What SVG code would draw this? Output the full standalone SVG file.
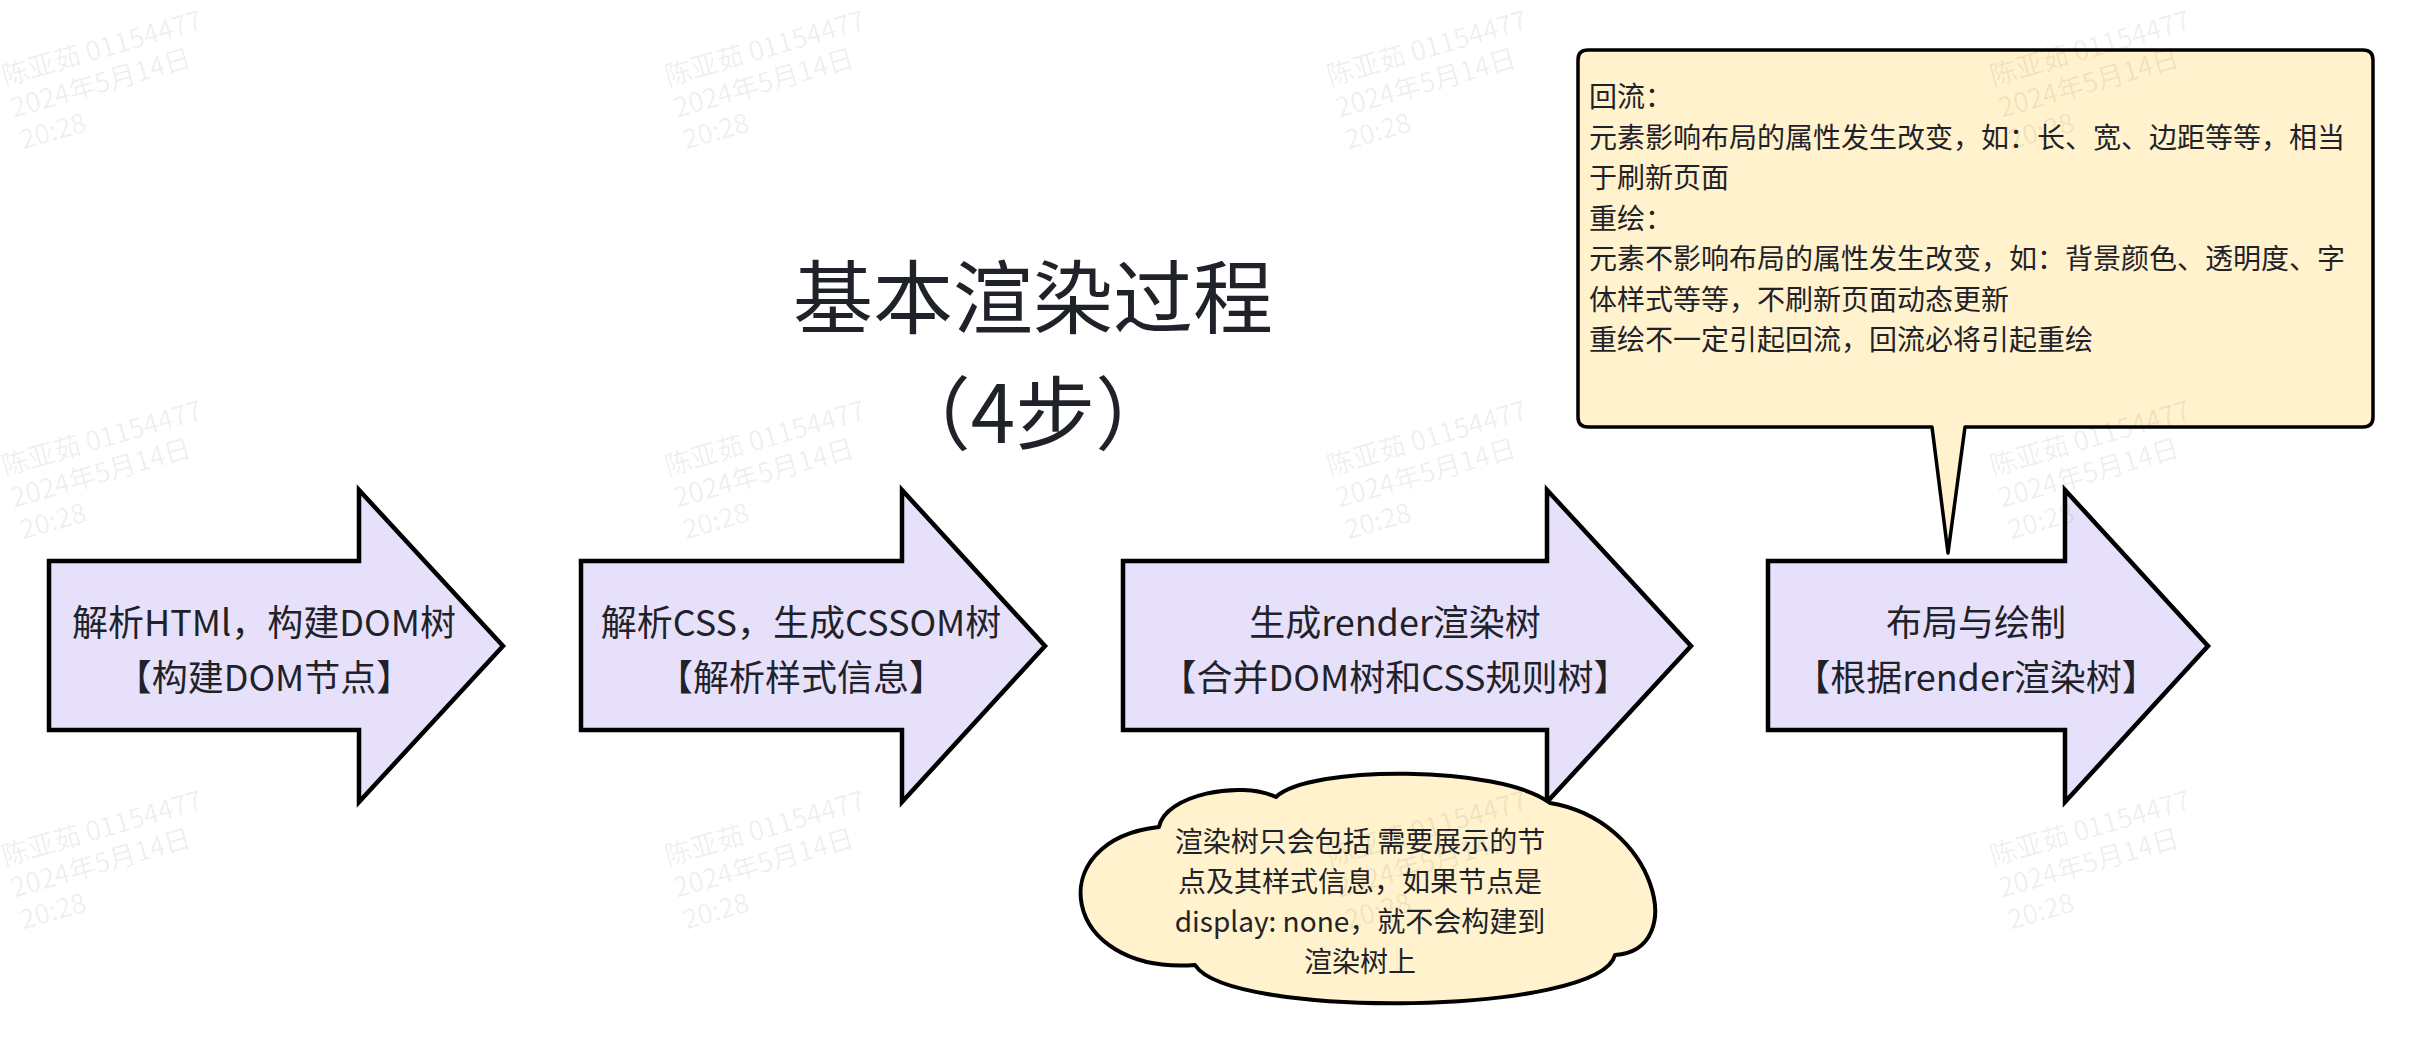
<svg xmlns="http://www.w3.org/2000/svg" width="2422" height="1056" viewBox="0 0 2422 1056">
<style>
.arrow{fill:#e7e0fb;stroke:#000;stroke-width:4.5;stroke-linejoin:miter}
.note{fill:#fff2cc;stroke:#000;stroke-width:3.5;stroke-linejoin:round}
.cloud{fill:#fff2cc;stroke:#000;stroke-width:4;stroke-linejoin:round}
.t{font-family:"Noto Sans CJK SC","Noto Sans",sans-serif;fill:#1f2329}
.at{font-size:36px;text-anchor:middle}
.ct{font-size:28px;text-anchor:middle}
.nt{font-size:28px}
.title{font-size:80px;text-anchor:middle}
.wm{font-family:"Noto Sans CJK SC","Noto Sans",sans-serif;font-size:27px;fill:#000;fill-opacity:0.07}
</style>
<rect width="2422" height="1056" fill="#ffffff"/>
<g id="title">
<text class="t title" x="1033" y="327">基本渲染过程</text>
<text class="t title" x="1033" y="443">（4步）</text>
</g>
<g id="connectors"></g>
<g id="step1">
<path class="arrow" d="M49,561 H359 V490 L503,646 L359,802 V730 H49 Z"/>
<text class="t at" x="264" y="636">解析HTMl，构建DOM树</text>
<text class="t at" x="264" y="691">【构建DOM节点】</text>
</g>
<g id="step2">
<path class="arrow" d="M581,561 H902 V490 L1045,646 L902,802 V730 H581 Z"/>
<text class="t at" x="801" y="636">解析CSS，生成CSSOM树</text>
<text class="t at" x="801" y="691">【解析样式信息】</text>
</g>
<g id="step3">
<path class="arrow" d="M1123,561 H1547 V490 L1691,646 L1547,802 V730 H1123 Z"/>
<text class="t at" x="1395" y="636">生成render渲染树</text>
<text class="t at" x="1395" y="691">【合并DOM树和CSS规则树】</text>
</g>
<g id="step4">
<path class="arrow" d="M1768,561 H2065 V490 L2208,646 L2065,802 V730 H1768 Z"/>
<text class="t at" x="1976" y="636">布局与绘制</text>
<text class="t at" x="1976" y="691">【根据render渲染树】</text>
</g>
<g id="note-reflow">
<path class="note" d="M1588,50 H2363 Q2373,50 2373,60 V417 Q2373,427 2363,427 H1965 L1948,553 L1932,427 H1588 Q1578,427 1578,417 V60 Q1578,50 1588,50 Z"/>
<text class="t nt" x="1589" y="107">回流：</text>
<text class="t nt" x="1589" y="147.5">元素影响布局的属性发生改变，如：长、宽、边距等等，相当</text>
<text class="t nt" x="1589" y="188">于刷新页面</text>
<text class="t nt" x="1589" y="228.5">重绘：</text>
<text class="t nt" x="1589" y="269">元素不影响布局的属性发生改变，如：背景颜色、透明度、字</text>
<text class="t nt" x="1589" y="309.5">体样式等等，不刷新页面动态更新</text>
<text class="t nt" x="1589" y="350">重绘不一定引起回流，回流必将引起重绘</text>
</g>
<g id="note-render-tree">
<path class="cloud" d="M1159,827 C1165,795 1240,780 1276,797 C1310,765 1500,765 1550,803 C1655,820 1690,950 1615,955 C1600,1015 1230,1020 1195,965 C1060,975 1040,840 1159,827 Z"/>
<text class="t ct" x="1360" y="852">渲染树只会包括 需要展示的节</text>
<text class="t ct" x="1360" y="892">点及其样式信息，如果节点是</text>
<text class="t ct" x="1360" y="932">display: none，就不会构建到</text>
<text class="t ct" x="1360" y="972">渲染树上</text>
</g>
<g id="watermarks">
<g transform="translate(5,86) rotate(-16)"><text class="wm" x="0" y="0">陈亚茹 01154477</text><text class="wm" x="0" y="33">2024年5月14日</text><text class="wm" x="0" y="66">20:28</text></g>
<g transform="translate(668,86) rotate(-16)"><text class="wm" x="0" y="0">陈亚茹 01154477</text><text class="wm" x="0" y="33">2024年5月14日</text><text class="wm" x="0" y="66">20:28</text></g>
<g transform="translate(1330,86) rotate(-16)"><text class="wm" x="0" y="0">陈亚茹 01154477</text><text class="wm" x="0" y="33">2024年5月14日</text><text class="wm" x="0" y="66">20:28</text></g>
<g transform="translate(1993,86) rotate(-16)"><text class="wm" x="0" y="0">陈亚茹 01154477</text><text class="wm" x="0" y="33">2024年5月14日</text><text class="wm" x="0" y="66">20:28</text></g>
<g transform="translate(5,476) rotate(-16)"><text class="wm" x="0" y="0">陈亚茹 01154477</text><text class="wm" x="0" y="33">2024年5月14日</text><text class="wm" x="0" y="66">20:28</text></g>
<g transform="translate(668,476) rotate(-16)"><text class="wm" x="0" y="0">陈亚茹 01154477</text><text class="wm" x="0" y="33">2024年5月14日</text><text class="wm" x="0" y="66">20:28</text></g>
<g transform="translate(1330,476) rotate(-16)"><text class="wm" x="0" y="0">陈亚茹 01154477</text><text class="wm" x="0" y="33">2024年5月14日</text><text class="wm" x="0" y="66">20:28</text></g>
<g transform="translate(1993,476) rotate(-16)"><text class="wm" x="0" y="0">陈亚茹 01154477</text><text class="wm" x="0" y="33">2024年5月14日</text><text class="wm" x="0" y="66">20:28</text></g>
<g transform="translate(5,866) rotate(-16)"><text class="wm" x="0" y="0">陈亚茹 01154477</text><text class="wm" x="0" y="33">2024年5月14日</text><text class="wm" x="0" y="66">20:28</text></g>
<g transform="translate(668,866) rotate(-16)"><text class="wm" x="0" y="0">陈亚茹 01154477</text><text class="wm" x="0" y="33">2024年5月14日</text><text class="wm" x="0" y="66">20:28</text></g>
<g transform="translate(1330,866) rotate(-16)"><text class="wm" x="0" y="0">陈亚茹 01154477</text><text class="wm" x="0" y="33">2024年5月14日</text><text class="wm" x="0" y="66">20:28</text></g>
<g transform="translate(1993,866) rotate(-16)"><text class="wm" x="0" y="0">陈亚茹 01154477</text><text class="wm" x="0" y="33">2024年5月14日</text><text class="wm" x="0" y="66">20:28</text></g>
</g>
</svg>
